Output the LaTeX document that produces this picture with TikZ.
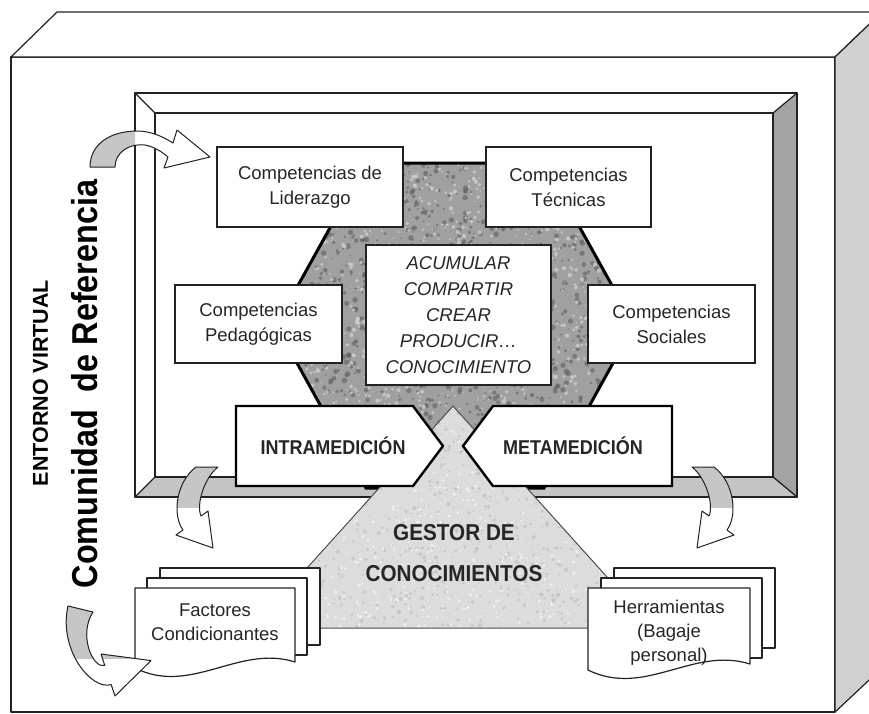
\documentclass[tikz,border=0pt]{standalone}
\usepackage{fontspec}
\setmainfont{Liberation Sans}
\definecolor{ln}{HTML}{222222}
\definecolor{txt}{HTML}{262626}
\definecolor{sideface}{HTML}{D0D0D0}
\definecolor{bevR}{HTML}{A3A3A3}
\definecolor{bevB}{HTML}{C4C4C4}
\definecolor{arrgray}{HTML}{C6C6C6}
\definecolor{hexbase}{HTML}{A0A0A0}
\definecolor{hexdark}{HTML}{5E5E5E}
\definecolor{hexlight}{HTML}{D2D2D2}
\definecolor{tribase}{HTML}{DCDCDC}
\definecolor{tridark}{HTML}{C2C2C2}
\definecolor{trilight}{HTML}{F0F0F0}
\begin{document}
\begin{tikzpicture}[x=1pt,y=-1pt,
  edge/.style={draw=ln,line width=1.2pt,line join=round},
  heavy/.style={draw=black,line width=2.4pt,line join=miter,fill=white},
  cbox/.style={draw=ln,line width=1.1pt,fill=white,align=center,text=txt,
    font=\fontsize{18.5}{25}\selectfont,inner sep=0pt},
  doctxt/.style={align=center,text=txt,font=\fontsize{18.5}{24}\selectfont,inner sep=0pt},
  boldtxt/.style={text=txt,font=\bfseries\fontsize{20}{24}\selectfont,inner sep=0pt},
  arrline/.style={draw=ln,line width=1pt,line join=round}]
\path[use as bounding box] (0,0) rectangle (869,713);

% ---------- outer 3D box ----------
\filldraw[fill=white,edge] (11,57) rectangle (835,712);
\filldraw[fill=white,edge] (11,57) -- (57,12) -- (882,12) -- (835,57) -- cycle;
\filldraw[fill=sideface,edge] (835,57) -- (882,12) -- (882,668) -- (835,712) -- cycle;

% ---------- bevelled frame ----------
\fill[white] (135,93) rectangle (797,497);
\filldraw[fill=bevR,edge] (797,93) -- (773,113) -- (773,477) -- (797,497) -- cycle;
\filldraw[fill=bevB,edge] (135,497) -- (155,477) -- (773,477) -- (797,497) -- cycle;
\draw[edge] (135,93) rectangle (797,497);
\draw[edge] (155,113) rectangle (773,477);
\draw[edge] (135,93) -- (155,113);

% ---------- left vertical titles ----------
\node[rotate=90,inner sep=0pt,text=black,font=\bfseries\fontsize{21.5}{24}\selectfont] (entorno) at (40.5,383) {ENTORNO VIRTUAL};
\node[rotate=90,inner sep=0pt,text=black,font=\bfseries\fontsize{36}{40}\selectfont] (comunidad) at (85,384) {\scalebox{0.9}[1]{Comunidad\ \ de Referencia}};

% ---------- granite hexagon ----------
\def\hexpath{(276,325) -- (366,163) -- (544,163) -- (634,325) -- (544,488) -- (366,488) -- cycle}
\pgfmathsetseed{7}
\begin{scope}
  \clip \hexpath;
  \fill[hexbase] (270,155) rectangle (640,495);
  \foreach \i in {1,...,1600}{\fill[hexdark,opacity=0.6] ({270+370*rnd},{155+340*rnd}) circle[radius={0.8+2*rnd}];}
  \foreach \i in {1,...,1500}{\fill[hexlight,opacity=0.75] ({270+370*rnd},{155+340*rnd}) circle[radius={0.6+1.6*rnd}];}
\end{scope}
\draw[draw=black,line width=3pt,line join=miter] \hexpath;

% ---------- granite triangle (gestor) ----------
\def\tripath{(453,406) -- (653,628) -- (253,628) -- cycle}
\begin{scope}
  \clip \tripath;
  \fill[tribase] (250,400) rectangle (660,632);
  \foreach \i in {1,...,1000}{\fill[tridark,opacity=0.8] ({250+410*rnd},{400+232*rnd}) circle[radius={0.6+1.5*rnd}];}
  \foreach \i in {1,...,800}{\fill[trilight] ({250+410*rnd},{400+232*rnd}) circle[radius={0.5+1.4*rnd}];}
\end{scope}
\draw[draw=ln!80,line width=1pt] \tripath;
\node[align=center,text=txt,font=\bfseries\fontsize{23}{41}\selectfont,inner sep=0pt] (gestor) at (454,553)
  {\scalebox{0.9}[1]{GESTOR DE}\\\scalebox{0.9}[1]{CONOCIMIENTOS}};

% ---------- competence boxes ----------
\node[cbox,minimum width=186pt,minimum height=80pt] (lid) at (310,187) {Competencias de\\Liderazgo};
\node[cbox,minimum width=165pt,minimum height=80pt] (tec) at (568.5,187) {Competencias\\T\'ecnicas};
\node[cbox,minimum width=167pt,minimum height=78pt] (ped) at (258.5,324) {Competencias\\Pedag\'ogicas};
\node[cbox,minimum width=167pt,minimum height=78pt] (soc) at (671.5,324) {Competencias\\Sociales};
\node[cbox,minimum width=185pt,minimum height=140pt,font=\itshape\fontsize{18.5}{26}\selectfont] (acu) at (458.5,315)
  {ACUMULAR\\COMPARTIR\\CREAR\\PRODUCIR\dots\\CONOCIMIENTO};

% ---------- intra / meta ----------
\draw[heavy] (236,406) -- (413,406) -- (443,446) -- (413,486) -- (236,486) -- cycle;
\node[boldtxt] (intra) at (333,446) {\scalebox{0.9}[1]{INTRAMEDICI\'ON}};
\draw[heavy] (493,406) -- (672,406) -- (672,486) -- (493,486) -- (463,446) -- cycle;
\node[boldtxt] (meta) at (573,446) {\scalebox{0.9}[1]{METAMEDICI\'ON}};

% ---------- document stacks ----------
\filldraw[fill=white,edge] (160,568) rectangle (320,645);
\filldraw[fill=white,edge] (147,578) rectangle (307,655);
\filldraw[fill=white,edge] (135,588) -- (295,588) -- (295,662) .. controls (239,644) and (191,696) .. (135,668) -- cycle;
\node[doctxt] (fac) at (215,622) {Factores\\Condicionantes};

\filldraw[fill=white,edge] (614,568) rectangle (775,648);
\filldraw[fill=white,edge] (601,578) rectangle (762,658);
\filldraw[fill=white,edge] (588,588) -- (750,588) -- (750,664) .. controls (693,646) and (645,698) .. (588,670) -- cycle;
\node[doctxt] (her) at (669,633) {Herramientas\\(Bagaje\\personal)};

% ---------- curved block arrows ----------
\def\arrTL{(90,167) -- (115,167) .. controls (115,152) and (130,143) .. (145,145) .. controls (155,147) and (162,152) .. (168,157) -- (164,168) -- (210,157) -- (177,130) -- (173,143) .. controls (162,136) and (150,131) .. (137,131) .. controls (112,131) and (90,143) .. (90,167) -- cycle}
\fill[white] \arrTL;
\begin{scope}\clip (0,0) rectangle (135,713); \fill[arrgray] \arrTL; \end{scope}
\draw[arrline] \arrTL;

\def\arrL{(196,467) -- (218,467) .. controls (204,478) and (196,505) .. (201,516) -- (208,511) -- (213,548) -- (176,535) -- (183,530) .. controls (172,515) and (176,482) .. (196,467) -- cycle}
\fill[white] \arrL;
\begin{scope}\clip (0,0) rectangle (869,507); \fill[arrgray] \arrL; \end{scope}
\draw[arrline] \arrL;

\begin{scope}[shift={(910,0)},xscale=-1]
  \fill[white] \arrL;
  \begin{scope}\clip (0,0) rectangle (869,507); \fill[arrgray] \arrL; \end{scope}
  \draw[arrline] \arrL;
\end{scope}

\def\arrBL{(68,606) -- (93,612) .. controls (78,635) and (93,669) .. (104.8,665.5) -- (101,654) -- (151,660.6) -- (115,696) -- (111.2,684.5) .. controls (92,691) and (58,650) .. (68,606) -- cycle}
\fill[white] \arrBL;
\begin{scope}\clip (0,0) rectangle (869,658); \fill[arrgray] \arrBL; \end{scope}
\draw[arrline] \arrBL;
\end{tikzpicture}
\end{document}
